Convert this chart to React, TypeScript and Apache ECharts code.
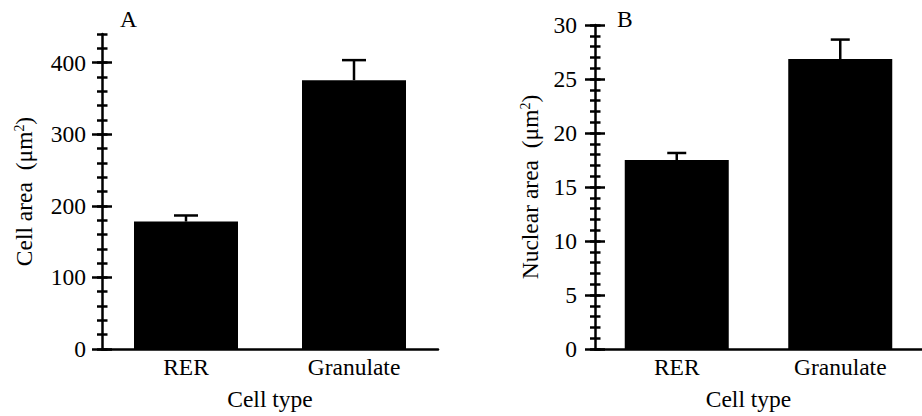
import React, { useEffect, useRef } from "react";
import * as echarts from "echarts";

const categories = ["RER", "Granulate"];
const cellArea = [178, 375.5];
const cellAreaErr = [8.5, 28];
const nuclearArea = [17.5, 26.85];
const nuclearAreaErr = [0.65, 1.8];
const cellAreaMajorTicks = [0, 100, 200, 300, 400];
const nuclearMajorTicks = [0, 5, 10, 15, 20, 25, 30];

const FONT = "'Liberation Serif', 'Times New Roman', serif";
const FS = 23.5;
const LW = 2.5;

function errorSeries(xi: number, vals: number[], errs: number[], cap: number) {
  return {
    type: "custom",
    xAxisIndex: xi,
    yAxisIndex: xi * 4,
    z: 5,
    data: vals.map((v, i) => [i, v, errs[i]]),
    renderItem: (params: any, api: any) => {
      const x = api.value(0);
      const y = api.value(1);
      const e = api.value(2);
      const base = api.coord([x, y]);
      const top = api.coord([x, y + e]);
      const st = { stroke: "#000", lineWidth: LW };
      return {
        type: "group",
        children: [
          { type: "line", shape: { x1: top[0], y1: base[1], x2: top[0], y2: top[1] }, style: st },
          { type: "line", shape: { x1: top[0] - cap / 2, y1: top[1], x2: top[0] + cap / 2, y2: top[1] }, style: st },
        ],
      };
    },
  };
}

function yAxes(gi: number, max: number, minorInt: number, majors: number[], name: string, nameGap: number, labelMargin: number) {
  const common = {
    type: "value",
    gridIndex: gi,
    position: "left",
    offset: 0,
    min: 0,
    max,
    interval: minorInt,
    splitLine: { show: false },
  };
  return [
    {
      ...common,
      axisLine: { show: true, lineStyle: { color: "#000", width: LW } },
      axisTick: { show: true, inside: false, length: 5, lineStyle: { color: "#000", width: LW } },
      axisLabel: {
        show: true,
        formatter: (v: number) => (majors.indexOf(v) >= 0 ? String(v) : ""),
        color: "#000",
        fontSize: FS,
        fontFamily: FONT,
        margin: labelMargin,
      },
      name,
      nameLocation: "middle",
      nameGap,
      nameTextStyle: {
        color: "#000",
        fontSize: FS,
        fontFamily: FONT,
        rich: {
          sup: { fontSize: 14, fontFamily: FONT, color: "#000", verticalAlign: "top" },
        },
      },
    },
    {
      ...common,
      axisLine: { show: false },
      axisTick: { show: true, inside: true, length: 5.5, lineStyle: { color: "#000", width: LW } },
      axisLabel: { show: false },
    },
    {
      ...common,
      axisLine: { show: false },
      axisTick: { show: true, inside: false, customValues: majors, length: 10, lineStyle: { color: "#000", width: LW } },
      axisLabel: { show: false },
    },
    {
      ...common,
      axisLine: { show: false },
      axisTick: { show: true, inside: true, customValues: majors, length: 10, lineStyle: { color: "#000", width: LW } },
      axisLabel: { show: false },
    },
  ];
}

function xAxis(gi: number, namePad: number[]) {
  return {
    type: "category",
    gridIndex: gi,
    data: categories,
    axisLine: { show: true, lineStyle: { color: "#000", width: LW } },
    axisTick: { show: false },
    axisLabel: { color: "#000", fontSize: FS, fontFamily: FONT, margin: 6 },
    name: "Cell type",
    nameLocation: "middle",
    nameGap: 38,
    nameTextStyle: { color: "#000", fontSize: FS, fontFamily: FONT, padding: namePad },
  };
}

export default function App() {
  const ref = useRef<HTMLDivElement>(null);
  useEffect(() => {
    if (!ref.current) return;
    const chart = echarts.init(ref.current, undefined, { renderer: "svg" });
    chart.setOption({
      animation: false,
      backgroundColor: "#fff",
      textStyle: { fontFamily: FONT },
      grid: [
        { left: 102, top: 34, width: 336, height: 318 },
        { left: 595, top: 25, width: 336, height: 326 },
      ],
      xAxis: [xAxis(0, [0, 0, 0, 0]), xAxis(1, [0, 20, 0, 0])],
      yAxis: [
        ...yAxes(0, 440, 20, cellAreaMajorTicks, "Cell area  (μm{sup|2})", 66, 16),
        ...yAxes(1, 30, 1, nuclearMajorTicks, "Nuclear area  (μm{sup|2})", 53, 18),
      ],
      graphic: [
        { type: "text", left: 120, top: 7, style: { text: "A", fontSize: FS, fontFamily: FONT, fill: "#000" } },
        { type: "text", left: 617, top: 7, style: { text: "B", fontSize: FS, fontFamily: FONT, fill: "#000" } },
      ],
      series: [
        {
          type: "bar",
          xAxisIndex: 0,
          yAxisIndex: 0,
          data: cellArea,
          barWidth: 104,
          itemStyle: { color: "#000" },
        },
        {
          type: "bar",
          xAxisIndex: 1,
          yAxisIndex: 4,
          data: nuclearArea,
          barWidth: 104,
          itemStyle: { color: "#000" },
        },
        errorSeries(0, cellArea, cellAreaErr, 24),
        errorSeries(1, nuclearArea, nuclearAreaErr, 19),
      ],
    });
    return () => chart.dispose();
  }, []);
  return <div ref={ref} style={{ position: "absolute", left: 0, top: 0, width: 922, height: 416 }} />;
}
